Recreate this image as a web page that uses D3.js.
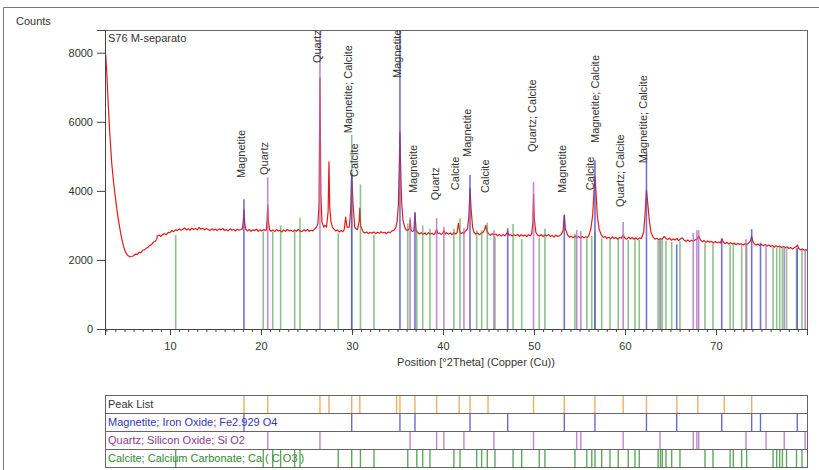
<!DOCTYPE html>
<html>
<head>
<meta charset="utf-8">
<script src="https://cdnjs.cloudflare.com/ajax/libs/d3/7.8.5/d3.min.js"></script>
<style>
body { margin: 0; background: #fff; }
svg { font-family: "Liberation Sans", Arial, sans-serif; }
</style>
</head>
<body>
<svg id="chart" width="819" height="470"></svg>
<script>
// ---- data ----
var thetaRange = [2.86, 80.0];
var countsMax = 8658;
var yTicks = [0, 2000, 4000, 6000, 8000];
var xTicks = [10, 20, 30, 40, 50, 60, 70];

// measured pattern [2theta, counts]
var pattern = [
 [2.86,8050],[2.95,7900],[3.05,7450],[3.2,6600],[3.4,5600],[3.6,4800],[3.8,4250],[4.0,3800],
 [4.2,3400],[4.4,3050],[4.6,2750],[4.8,2500],[5.0,2300],[5.2,2180],[5.4,2120],[5.6,2090],
 [5.8,2100],[6.0,2120],[6.2,2170],[6.4,2160],[6.6,2220],[6.8,2210],[7.0,2280],[7.2,2290],
 [7.4,2340],[7.6,2370],[7.8,2420],[8.0,2450],[8.2,2520],[8.4,2540],[8.55,2600],
 [8.6,2690],[8.8,2720],[9.0,2680],[9.2,2740],[9.4,2760],[9.6,2730],[9.8,2800],[10.0,2790],
 [10.2,2850],[10.4,2820],[10.6,2870],[10.8,2850],[11.0,2900],[11.2,2860],[11.4,2880],[11.6,2930],
 [11.8,2870],[12.0,2900],[12.2,2860],[12.4,2920],[12.6,2880],[12.8,2910],[13.0,2870],[13.2,2940],
 [13.4,2890],[13.6,2920],[13.8,2870],[14.0,2910],[14.2,2880],[14.4,2850],[14.6,2900],[14.8,2860],
 [15.0,2890],[15.2,2850],[15.4,2900],[15.6,2870],[15.8,2910],[16.0,2850],[16.2,2880],[16.4,2840],
 [16.6,2900],[16.8,2860],[17.0,2880],[17.2,2840],[17.4,2890],[17.6,2860],[17.8,2880],
 [17.95,2900],[18.05,3100],[18.13,3450],[18.22,3050],[18.35,2880],[18.5,2840],[18.7,2880],[18.9,2830],
 [19.1,2870],[19.3,2850],[19.5,2890],[19.7,2830],[19.9,2870],[20.1,2840],[20.3,2880],[20.5,2850],
 [20.6,2880],[20.68,3200],[20.74,3600],[20.82,3100],[20.95,2870],[21.1,2830],[21.3,2870],[21.5,2820],
 [21.7,2880],[21.9,2840],[22.1,2860],[22.3,2810],[22.5,2870],[22.7,2830],[22.9,2880],[23.1,2840],
 [23.3,2860],[23.5,2820],[23.7,2870],[23.9,2830],[24.1,2880],[24.3,2840],[24.5,2820],[24.7,2870],
 [24.9,2840],[25.1,2880],[25.3,2830],[25.5,2860],[25.7,2840],[25.9,2900],
 [26.1,2950],[26.25,3050],[26.38,3600],[26.48,7280],[26.58,3900],[26.7,3100],[26.9,2950],[27.05,3000],
 [27.2,2950],[27.38,3400],[27.47,4840],[27.56,3500],[27.7,3100],[27.85,2950],[28.0,2900],[28.2,2840],
 [28.4,2870],[28.6,2810],[28.8,2850],[29.0,2820],[29.15,2880],
 [29.3,3240],[29.45,2950],[29.7,2950],[29.85,3400],[29.97,4500],[30.1,3700],[30.3,2950],[30.45,2900],
 [30.6,2880],[30.78,3100],[30.86,3500],[30.95,3000],[31.2,2820],[31.4,2780],[31.6,2810],[31.8,2760],
 [32.0,2800],[32.2,2770],[32.4,2810],[32.6,2760],[32.8,2800],[33.0,2770],[33.2,2820],[33.4,2780],
 [33.6,2800],[33.8,2760],[34.0,2810],[34.2,2790],[34.4,2840],[34.6,2860],[34.8,2920],
 [34.95,3100],[35.1,3600],[35.2,4800],[35.27,5700],[35.35,4700],[35.45,3700],[35.6,3150],[35.8,2950],
 [35.95,2870],[36.1,2850],[36.3,2900],[36.4,3150],[36.5,2850],[36.65,2820],[36.8,2850],[36.92,3350],
 [37.05,2850],[37.2,2800],[37.4,2750],[37.6,2790],[37.8,2740],[38.0,2780],[38.2,2730],[38.4,2790],
 [38.6,2750],[38.8,2770],[39.0,2730],[39.15,2780],[39.3,2880],[39.45,2760],[39.6,2780],[39.8,2740],
 [40.0,2780],[40.1,2850],[40.25,2750],[40.4,2790],[40.6,2740],[40.8,2780],[41.0,2730],[41.2,2790],
 [41.4,2750],[41.55,2800],[41.7,3060],[41.85,2800],[42.0,2760],[42.15,2800],[42.3,2760],[42.45,2830],
 [42.7,2900],[42.85,3300],[42.97,4080],[43.08,3500],[43.25,2950],[43.4,2800],[43.6,2750],[43.8,2780],
 [44.0,2730],[44.2,2770],[44.4,2800],[44.55,2860],[44.7,3000],[44.85,2820],[45.0,2760],[45.2,2710],
 [45.4,2760],[45.6,2720],[45.8,2750],[46.0,2700],[46.2,2740],[46.4,2690],[46.6,2740],[46.8,2700],
 [47.0,2760],[47.1,2830],[47.25,2710],[47.4,2740],[47.6,2690],[47.8,2730],[48.0,2700],[48.2,2740],
 [48.4,2680],[48.6,2730],[48.8,2690],[49.0,2720],[49.2,2680],[49.4,2730],[49.6,2700],[49.75,2760],
 [49.88,3100],[49.95,3900],[50.03,3200],[50.2,2800],[50.4,2720],[50.6,2690],[50.8,2730],[51.0,2680],
 [51.2,2720],[51.4,2690],[51.6,2740],[51.8,2680],[52.0,2710],[52.2,2660],[52.4,2720],[52.6,2680],
 [52.8,2700],[53.0,2740],[53.2,2850],[53.33,3300],[53.45,2900],[53.7,2720],[53.9,2660],[54.1,2690],
 [54.3,2640],[54.5,2690],[54.7,2650],[54.9,2680],[55.1,2630],[55.3,2680],[55.5,2640],[55.7,2670],
 [55.9,2650],[56.05,2720],[56.25,2900],[56.45,3300],[56.6,4000],[56.7,4410],[56.82,3950],[56.95,3300],
 [57.15,2900],[57.4,2720],[57.6,2650],[57.8,2680],[58.0,2620],[58.2,2660],[58.4,2610],[58.6,2670],
 [58.8,2620],[59.0,2650],[59.2,2600],[59.4,2650],[59.6,2630],[59.8,2720],[60.0,2630],[60.2,2600],
 [60.4,2660],[60.6,2610],[60.8,2650],[61.0,2600],[61.2,2640],[61.4,2590],[61.6,2640],[61.8,2620],
 [62.05,2800],[62.2,3300],[62.36,4020],[62.5,3650],[62.65,3200],[62.85,2800],[63.1,2660],[63.3,2600],
 [63.5,2630],[63.7,2580],[63.9,2620],[64.1,2600],[64.3,2680],[64.5,2620],[64.7,2590],[64.9,2630],
 [65.1,2570],[65.3,2610],[65.5,2580],[65.7,2620],[65.9,2560],[66.1,2610],[66.3,2640],[66.5,2570],
 [66.7,2540],[66.9,2580],[67.1,2530],[67.3,2570],[67.5,2540],[67.7,2580],[67.9,2600],[68.1,2690],
 [68.3,2580],[68.5,2530],[68.7,2560],[68.9,2510],[69.1,2550],[69.3,2510],[69.5,2540],[69.7,2490],
 [69.9,2530],[70.1,2500],[70.3,2520],[70.5,2490],[70.65,2620],[70.8,2520],[71.0,2470],[71.2,2510],
 [71.4,2460],[71.6,2500],[71.8,2460],[72.0,2490],[72.2,2440],[72.4,2480],[72.6,2450],[72.8,2470],
 [73.0,2430],[73.2,2470],[73.4,2450],[73.6,2490],[73.8,2560],[73.92,2690],[74.05,2540],[74.2,2470],
 [74.4,2430],[74.6,2460],[74.8,2420],[75.0,2450],[75.2,2410],[75.4,2450],[75.6,2400],[75.8,2430],
 [76.0,2390],[76.2,2420],[76.4,2370],[76.6,2410],[76.8,2380],[77.0,2400],[77.2,2360],[77.4,2390],
 [77.6,2350],[77.8,2380],[78.0,2330],[78.2,2360],[78.4,2320],[78.6,2350],[78.8,2380],[78.95,2430],
 [79.1,2330],[79.3,2290],[79.5,2320],[79.7,2280],[79.85,2300],[80.0,2270]
];

// reference sticks [2theta, height in counts]
var magnetite = [[18.13,3760],[29.97,4500],[35.27,9500],[36.92,3390],[42.97,4460],[47.11,2920],
 [53.33,3300],[56.70,4890],[62.36,5100],[65.68,2450],[70.63,2600],[73.92,2890],[74.89,2500],[78.93,2350]];

var quartz = [[20.74,4390],[26.48,9500],[36.38,3230],[39.3,3210],[40.1,2960],[42.3,2920],[45.6,2860],
 [49.95,4260],[54.7,2860],[55.15,2830],[59.8,3100],[63.85,2560],[67.5,2780],[67.9,2860],[68.1,2860],
 [73.3,2600],[75.5,2450],[77.5,2400],[79.8,2300]];

var calcite = [[10.63,2720],[20.25,2815],[21.29,2815],[22.16,3000],[23.70,2860],[24.29,3220],[28.49,2770],
 [29.97,5620],[30.93,4190],[32.42,2720],[36.13,3060],[37.12,2860],[37.77,3000],[38.57,2900],[41.2,2900],
 [41.87,3210],[43.7,2860],[44.25,2860],[44.87,3080],[45.71,2680],[47.7,3040],[48.65,2600],[50.58,2650],
 [51.2,2900],[54.5,2760],[55.8,2650],[56.35,2700],[56.7,2800],[57.44,2620],[58.35,2600],[59.26,2620],
 [60.36,2580],[61.1,2620],[61.57,2580],[63.64,2560],[63.9,2640],[64.1,2600],[64.5,2560],[65.13,2520],
 [66.04,2540],[68.79,2480],[69.67,2460],[71.55,2440],[71.9,2470],[72.82,2420],[73.37,2440],[76.27,2380],
 [76.67,2360],[77.0,2390],[77.3,2350],[77.75,2340],[78.85,2330],[79.45,2300]];

var peakList = [18.13,20.74,26.48,27.47,29.97,30.86,34.9,35.27,36.92,39.3,41.77,42.97,44.95,49.95,
 53.33,56.7,59.8,62.36,65.7,68.0,70.9,73.92];

// peak annotations: text, 2theta of text centre, counts where text starts
var labelText = ["Magnetite","Quartz","Quartz","Magnetite; Calcite","Calcite","Magnetite","Magnetite",
 "Quartz","Calcite","Magnetite","Calcite","Quartz; Calcite","Magnetite","Calcite","Magnetite; Calcite",
 "Quartz; Calcite","Magnetite; Calcite"];
var labelTheta = [17.8,20.33,26.15,29.56,30.22,34.95,36.7,39.12,41.32,42.64,44.62,49.75,53.04,56.15,56.7,59.45,61.98];
var labelCounts = [4370,4460,7700,5670,4400,7270,3935,3730,4020,4980,3935,5125,3935,4020,5385,3530,4800];

var rowNames = ["Peak List","Magnetite; Iron Oxide; Fe2.929 O4","Quartz; Silicon Oxide; Si O2",
 "Calcite; Calcium Carbonate; Ca ( C O3 )"];

// ---- drawing ----
var svg = d3.select("#chart");
var pLeft = 105, pRight = 807, pTop = 30, pBottom = 329;

var x = d3.scaleLinear().domain(thetaRange).range([pLeft, pRight]);
var y = d3.scaleLinear().domain([0, countsMax]).range([pBottom, pTop]);

var colRed = "#e51a1a", colMag = "#4f4fc8", colQtz = "#b36fc4", colCal = "#3f9a3f", colPeak = "#f0a040";

// outer frame
svg.append("path").attr("d", "M3.5,470 V7.5 H819")
  .attr("fill", "none").attr("stroke", "#777").attr("stroke-width", 1);

svg.append("text").attr("x", 16).attr("y", 25).attr("font-size", 11).attr("fill", "#333").text("Counts");

svg.append("defs").append("clipPath").attr("id", "plotclip")
  .append("rect").attr("x", pLeft).attr("y", pTop).attr("width", pRight - pLeft).attr("height", pBottom - pTop);

// plot frame
svg.append("rect").attr("x", pLeft + 0.5).attr("y", pTop + 0.5)
  .attr("width", pRight - pLeft).attr("height", pBottom - pTop)
  .attr("fill", "none").attr("stroke", "#666");

var plot = svg.append("g").attr("clip-path", "url(#plotclip)");

// pattern line
var line = d3.line().x(function(d) { return x(d[0]); }).y(function(d) { return y(d[1]); });
plot.append("path").datum(pattern).attr("d", line)
  .attr("fill", "none").attr("stroke", colRed).attr("stroke-width", 1.2).attr("stroke-linejoin", "round");

function drawSticks(data, color, w, op) {
  plot.append("g").selectAll("line").data(data).join("line")
    .attr("x1", function(d) { return x(d[0]); }).attr("x2", function(d) { return x(d[0]); })
    .attr("y1", y(0)).attr("y2", function(d) { return y(d[1]); })
    .attr("stroke", color).attr("stroke-width", w).attr("stroke-opacity", op);
}
drawSticks(calcite, colCal, 1.6, 0.6);
drawSticks(quartz, colQtz, 1.6, 0.8);
drawSticks(magnetite, colMag, 1.6, 0.8);

// peak labels
svg.append("g").selectAll("text").data(labelText).join("text")
  .attr("transform", function(d, i) {
    return "translate(" + (x(labelTheta[i]) + 4) + "," + y(labelCounts[i]) + ") rotate(-90)";
  })
  .attr("font-size", 11).attr("fill", "#333").text(function(d) { return d; });

svg.append("text").attr("x", pLeft + 3).attr("y", pTop + 12).attr("font-size", 11).attr("fill", "#333")
  .text("S76 M-separato");

// axes
var yAxis = svg.append("g").attr("transform", "translate(" + pLeft + ",0)")
  .call(d3.axisLeft(y).tickValues(yTicks).tickSize(8).tickPadding(4).tickFormat(d3.format("d")));
var xMinor = svg.append("g").attr("transform", "translate(0," + pBottom + ")")
  .call(d3.axisBottom(x).ticks(80).tickSize(3).tickFormat(""));
var xAxis = svg.append("g").attr("transform", "translate(0," + pBottom + ")")
  .call(d3.axisBottom(x).tickValues(xTicks).tickSize(6).tickPadding(7));
[yAxis, xAxis, xMinor].forEach(function(a) {
  a.selectAll("path").attr("stroke", "#444");
  a.selectAll("line").attr("stroke", "#444");
  a.selectAll("text").attr("font-size", 11).attr("fill", "#333")
    .attr("font-family", "'Liberation Sans', Arial, sans-serif");
});

svg.append("text").attr("x", 476).attr("y", 366).attr("text-anchor", "middle")
  .attr("font-size", 11).attr("fill", "#333").text("Position [°2Theta] (Copper (Cu))");

// bottom stick panel
var band = d3.scaleBand().domain(rowNames).range([395, 467]);
var rowColors = ["#333", "#3535b5", "#8c3a8c", "#2f8a2f"];
var rowSticks = [peakList, magnetite.map(function(d) { return d[0]; }),
  quartz.map(function(d) { return d[0]; }), calcite.map(function(d) { return d[0]; })];
var rowStickCol = [colPeak, colMag, colQtz, colCal];

var panel = svg.append("g");
rowNames.forEach(function(name, i) {
  var g = panel.append("g").attr("transform", "translate(0," + band(name) + ")");
  g.append("rect").attr("x", pLeft + 0.5).attr("y", 0.5).attr("width", pRight - pLeft).attr("height", band.bandwidth())
    .attr("fill", "#fff").attr("stroke", "#666");
  g.append("text").attr("x", pLeft + 3).attr("y", 13).attr("font-size", 11).attr("fill", rowColors[i]).text(name);
  g.selectAll("line").data(rowSticks[i]).join("line")
    .attr("x1", function(d) { return x(d); }).attr("x2", function(d) { return x(d); })
    .attr("y1", 1).attr("y2", band.bandwidth())
    .attr("stroke", rowStickCol[i]).attr("stroke-width", 1.4).attr("stroke-opacity", 0.85);
});
</script>
</body>
</html>
